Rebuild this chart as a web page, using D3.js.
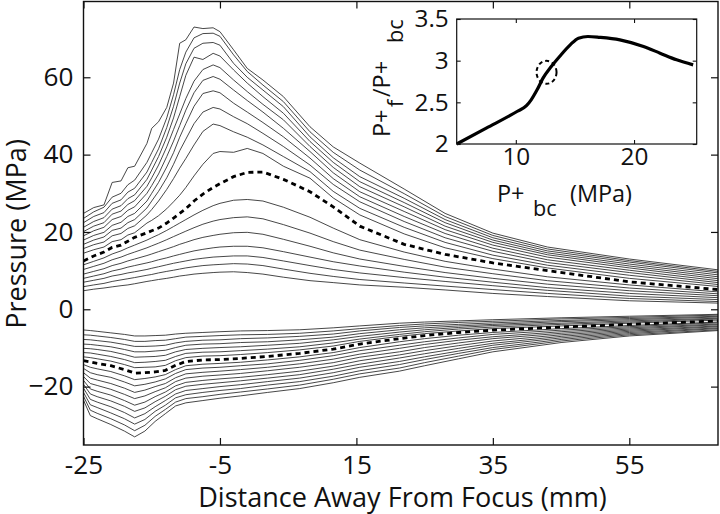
<!DOCTYPE html>
<html><head><meta charset="utf-8">
<script src="https://cdn.jsdelivr.net/npm/d3@7"></script>
<style>
body{margin:0;background:#fff;}
svg{display:block;}
text{font-family:"Open Sans",sans-serif;fill:#111;}
</style>
</head><body>
<svg id="c" width="720" height="514"></svg>
<script>
// ---------- data ----------
const xUpper = [-25, -23.5, -22, -20.8, -19.5, -18.5, -17.5, -15.7, -15, -14, -12.8, -11.8, -10.9, -10, -8.8, -7.5, -6, -5, -3, -1, 1.3, 4.3, 8.2, 11.6, 15.5, 22, 28, 35, 43, 55, 68];
const upperSeries = [
  [4.8, 5.2, 5.5, 5.8, 6.1, 6.3, 6.6, 7.2, 7.4, 7.7, 8.0, 8.3, 8.6, 8.8, 9.1, 9.3, 9.5, 9.6, 9.7, 9.5, 9.1, 8.3, 7.4, 6.9, 6.3, 5.7, 5.0, 4.1, 3.3, 2.2, 1.6],
  [5.85, 6.3, 6.7, 7.2, 7.6, 7.9, 8.2, 8.8, 9.0, 9.4, 9.8, 10.1, 10.4, 10.7, 11.0, 11.3, 11.5, 11.6, 11.8, 11.7, 11.3, 10.4, 9.3, 8.5, 7.7, 6.8, 6.0, 5.1, 4.1, 2.8, 2.0],
  [7.0, 7.5, 8.0, 8.6, 9.0, 9.4, 9.7, 10.3, 10.6, 11.0, 11.5, 11.9, 12.2, 12.5, 12.9, 13.2, 13.5, 13.6, 13.8, 13.8, 13.4, 12.5, 11.3, 10.3, 9.4, 8.2, 7.2, 6.1, 4.9, 3.4, 2.5],
  [8.0, 8.6, 9.2, 9.9, 10.4, 10.9, 11.3, 12.0, 12.3, 12.8, 13.3, 13.8, 14.2, 14.6, 15.1, 15.5, 15.9, 16.1, 16.3, 16.3, 15.9, 14.9, 13.5, 12.3, 11.2, 9.6, 8.3, 7.0, 5.6, 4.1, 3.0],
  [9.1, 9.8, 10.5, 11.3, 11.9, 12.5, 13.0, 13.9, 14.3, 14.9, 15.6, 16.2, 16.8, 17.3, 18.0, 18.6, 19.1, 19.4, 19.8, 19.9, 19.4, 18.1, 16.3, 14.6, 13.0, 11.1, 9.5, 8.0, 6.5, 4.8, 3.5],
  [10.3, 11.1, 11.9, 12.8, 13.5, 14.2, 14.8, 15.9, 16.4, 17.1, 18.0, 18.8, 19.5, 20.2, 21.1, 22.0, 22.8, 23.2, 23.7, 23.9, 23.4, 21.9, 19.7, 17.5, 15.3, 12.9, 10.9, 9.2, 7.4, 5.5, 4.0],
  [11.5, 12.4, 13.3, 14.3, 15.1, 15.9, 16.6, 17.9, 18.5, 19.3, 20.4, 21.4, 22.3, 23.2, 24.4, 25.6, 26.8, 27.4, 28.2, 28.4, 28.0, 26.4, 23.8, 21.0, 18.0, 14.8, 12.4, 10.4, 8.4, 6.3, 4.5],
  [12.5, 13.8, 14.8, 16.0, 16.6, 17.6, 18.6, 19.8, 20.3, 21.0, 22.3, 23.6, 24.8, 26.0, 28.0, 29.8, 31.5, 32.5, 34.3, 35.4, 35.5, 33.6, 30.4, 26.5, 21.5, 16.8, 14.2, 12.0, 10.0, 7.1, 5.1],
  [14.5, 15.4, 16.1, 17.5, 18.0, 19.2, 19.8, 22.3, 23.0, 24.2, 26.0, 27.8, 29.5, 31.5, 34.5, 37.5, 40.3, 40.8, 40.6, 41.6, 40.3, 37.0, 33.9, 28.8, 24.4, 19.5, 15.9, 13.1, 10.7, 8.0, 5.9],
  [15.7, 16.7, 17.4, 19.0, 19.6, 20.9, 21.6, 24.4, 25.8, 28.0, 31.0, 33.8, 36.5, 39.0, 42.5, 46.0, 47.9, 47.5, 45.9, 44.5, 42.5, 39.5, 35.6, 30.5, 26.1, 21.2, 17.3, 14.0, 11.4, 8.8, 6.4],
  [16.8, 17.9, 18.7, 20.4, 21.0, 22.4, 23.2, 26.2, 28.0, 30.5, 34.0, 37.5, 41.0, 44.0, 48.0, 51.0, 52.2, 51.8, 49.8, 48.0, 45.5, 42.1, 37.3, 32.3, 27.8, 22.7, 18.5, 15.0, 12.1, 9.5, 6.9],
  [17.9, 19.1, 19.9, 21.7, 22.5, 24.0, 24.8, 28.0, 30.0, 32.8, 36.8, 40.5, 44.5, 48.0, 52.5, 55.8, 56.5, 56.0, 53.3, 51.0, 48.3, 44.6, 39.1, 33.8, 29.1, 24.0, 19.6, 15.8, 12.8, 10.1, 7.4],
  [19.0, 20.3, 21.2, 23.2, 24.0, 25.6, 26.5, 30.0, 32.0, 35.0, 39.5, 43.5, 47.5, 51.5, 56.0, 59.2, 60.2, 59.5, 56.7, 54.0, 51.0, 46.8, 40.8, 35.3, 30.4, 25.3, 20.6, 16.6, 13.5, 10.7, 7.9],
  [20.1, 21.5, 22.4, 24.6, 25.4, 27.1, 28.1, 31.8, 34.0, 37.3, 42.0, 46.5, 50.5, 54.5, 59.0, 62.0, 63.2, 62.5, 59.3, 56.3, 53.0, 49.0, 42.1, 36.7, 31.7, 26.5, 21.5, 17.3, 14.1, 11.2, 8.4],
  [21.2, 22.7, 23.7, 25.9, 26.8, 28.6, 29.6, 33.6, 36.0, 39.5, 44.5, 49.5, 55.0, 60.5, 65.2, 64.6, 66.2, 65.5, 61.9, 58.5, 55.0, 50.7, 43.4, 38.0, 33.0, 27.6, 22.4, 17.9, 14.6, 11.7, 8.9],
  [22.4, 24.0, 25.0, 27.4, 28.3, 30.3, 31.3, 35.5, 38.0, 41.5, 47.0, 52.5, 58.5, 63.5, 67.5, 68.8, 69.0, 68.3, 63.6, 60.0, 56.7, 52.4, 44.6, 39.2, 34.3, 28.7, 23.2, 18.5, 15.1, 12.2, 9.4],
  [23.5, 25.2, 26.4, 29.0, 30.0, 32.2, 33.4, 38.0, 40.5, 44.0, 49.5, 55.5, 62.0, 66.5, 70.2, 71.3, 71.4, 70.6, 65.8, 61.5, 58.0, 53.7, 45.9, 40.6, 36.0, 29.9, 24.0, 19.1, 15.6, 12.6, 9.8],
  [24.8, 26.3, 27.0, 32.8, 33.2, 36.6, 37.0, 42.9, 46.8, 48.5, 52.2, 58.5, 68.8, 69.7, 73.0, 72.6, 72.8, 71.8, 67.1, 62.3, 59.3, 55.0, 47.2, 42.0, 37.8, 31.1, 24.8, 19.7, 16.1, 13.0, 10.2]
];
const xLower = [-25, -24, -23, -21, -19, -17.5, -16, -14.5, -13, -11.5, -10, -7.5, -5, -2, 2, 6.7, 11.6, 15.5, 21.3, 25, 30, 35, 45, 55, 68];
const lowerSeries = [
  [-5.35, -5.5, -5.7, -6.1, -6.5, -6.9, -6.9, -6.8, -6.7, -6.4, -6.2, -6.0, -5.8, -5.6, -5.5, -5.3, -4.8, -4.3, -3.6, -3.3, -3.0, -2.7, -2.2, -1.8, -1.3],
  [-6.6, -6.7, -6.9, -7.3, -7.8, -8.3, -8.3, -8.1, -8.0, -7.6, -7.2, -7.0, -6.8, -6.6, -6.5, -6.2, -5.6, -5.0, -4.2, -3.8, -3.4, -3.1, -2.5, -2.1, -1.5],
  [-7.8, -7.9, -8.1, -8.5, -9.1, -9.6, -9.6, -9.5, -9.3, -8.7, -8.3, -8.0, -7.9, -7.6, -7.4, -7.0, -6.4, -5.6, -4.7, -4.3, -3.9, -3.5, -2.9, -2.4, -1.8],
  [-9.0, -9.1, -9.3, -9.7, -10.4, -11.0, -11.0, -10.8, -10.6, -9.9, -9.3, -9.0, -8.9, -8.6, -8.4, -7.9, -7.2, -6.3, -5.3, -4.8, -4.3, -3.9, -3.2, -2.7, -2.0],
  [-10.1, -10.2, -10.4, -10.9, -11.7, -12.4, -12.3, -12.2, -11.9, -11.0, -10.4, -10.1, -9.9, -9.7, -9.3, -8.8, -7.9, -7.0, -5.9, -5.3, -4.7, -4.2, -3.6, -3.0, -2.3],
  [-11.2, -11.3, -11.6, -12.2, -13.0, -13.8, -13.7, -13.5, -13.2, -12.2, -11.4, -11.1, -11.0, -10.7, -10.3, -9.7, -8.7, -7.7, -6.5, -5.8, -5.1, -4.6, -3.9, -3.3, -2.5],
  [-12.3, -12.5, -12.8, -13.4, -14.3, -15.1, -15.0, -14.9, -14.5, -13.3, -12.5, -12.1, -12.0, -11.7, -11.2, -10.5, -9.5, -8.3, -7.0, -6.3, -5.6, -5.0, -4.3, -3.6, -2.8],
  [-13.3, -13.6, -14.0, -14.6, -15.6, -16.5, -16.4, -16.2, -15.8, -14.5, -13.5, -13.1, -13.0, -12.7, -12.2, -11.4, -10.3, -9.0, -7.6, -6.8, -6.0, -5.4, -4.6, -3.9, -3.0],
  [-14.3, -15.0, -15.4, -16.1, -17.2, -18.2, -17.9, -17.5, -16.9, -15.6, -14.6, -14.2, -14.0, -13.7, -13.1, -12.3, -11.2, -9.9, -8.4, -7.6, -6.7, -6.0, -5.0, -4.2, -3.3],
  [-15.3, -16.4, -16.9, -17.6, -18.8, -19.8, -19.4, -18.8, -18.0, -16.6, -15.6, -15.2, -15.0, -14.6, -14.1, -13.2, -12.0, -10.7, -9.3, -8.4, -7.4, -6.5, -5.4, -4.5, -3.5],
  [-16.4, -17.8, -18.3, -19.2, -20.4, -21.5, -20.9, -20.0, -19.2, -17.7, -16.7, -16.3, -16.0, -15.6, -15.0, -14.1, -12.9, -11.6, -10.1, -9.1, -8.0, -7.1, -5.8, -4.8, -3.8],
  [-17.4, -19.2, -19.7, -20.7, -22.0, -23.1, -22.4, -21.3, -20.3, -18.7, -17.8, -17.3, -17.0, -16.6, -15.9, -15.0, -13.8, -12.4, -11.0, -9.9, -8.7, -7.6, -6.2, -5.1, -4.0],
  [-18.4, -20.6, -21.2, -22.2, -23.6, -24.8, -24.0, -22.6, -21.4, -19.8, -18.9, -18.4, -18.0, -17.6, -16.9, -16.0, -14.7, -13.3, -11.8, -10.7, -9.4, -8.2, -6.6, -5.4, -4.3],
  [-19.4, -21.9, -22.6, -23.7, -25.1, -26.4, -25.5, -23.9, -22.5, -20.8, -19.9, -19.4, -19.0, -18.5, -17.8, -16.9, -15.5, -14.2, -12.6, -11.5, -10.1, -8.8, -7.0, -5.7, -4.5],
  [-20.4, -23.3, -24.0, -25.2, -26.7, -28.1, -27.0, -25.2, -23.6, -21.9, -21.0, -20.5, -20.0, -19.5, -18.7, -17.8, -16.4, -15.0, -13.5, -12.3, -10.8, -9.3, -7.4, -6.0, -4.8],
  [-21.5, -24.7, -25.4, -26.8, -28.3, -29.7, -28.5, -26.4, -24.8, -22.9, -22.1, -21.5, -21.0, -20.5, -19.6, -18.7, -17.3, -15.9, -14.3, -13.0, -11.4, -9.9, -7.8, -6.3, -5.0],
  [-22.5, -26.1, -26.9, -28.3, -29.9, -31.4, -30.0, -27.7, -25.9, -24.0, -23.1, -22.6, -22.0, -21.4, -20.6, -19.6, -18.1, -16.7, -15.2, -13.8, -12.1, -10.4, -8.2, -6.6, -5.3],
  [-23.5, -27.5, -28.3, -29.8, -31.5, -33.0, -31.5, -29.0, -27.0, -25.0, -24.2, -23.6, -23.0, -22.4, -21.5, -20.5, -19.0, -17.6, -16.0, -14.6, -12.8, -11.0, -8.6, -6.9, -5.5]
];
const dashedIndex = 7;
const xTicks = [-25, -5, 15, 35, 55];
const xTickLabels = ["-25", "-5", "15", "35", "55"];
const yTicks = [-20, 0, 20, 40, 60];
const yTickLabels = ["\u221220", "0", "20", "40", "60"];

const insetX = [5.0, 7.5, 10.1, 10.9, 11.3, 11.8, 12.3, 13.0, 13.7, 14.6, 15.3, 16.1, 17.1, 18.8, 20.8, 22.2, 23.6, 25.0];
const insetY = [2.0, 2.19, 2.39, 2.46, 2.53, 2.65, 2.79, 2.93, 3.05, 3.19, 3.27, 3.29, 3.28, 3.25, 3.17, 3.09, 3.01, 2.95];
const insetXTicks = [10, 20];
const insetYTicks = [2, 2.5, 3, 3.5];
const insetYTickLabels = ["2", "2.5", "3", "3.5"];
const ringCenter = [12.6, 2.86];

// ---------- drawing ----------
const svg = d3.select("#c");
const probe = svg.append("text").attr("font-size", 100).text("Distance Away From Focus (mm)");
const ratio = probe.node().getComputedTextLength() / 1362;
probe.remove();
const fs = s => (s / ratio).toFixed(2);

const L = 83.5, R = 718, T = 1.5, B = 445;
const x = d3.scaleLinear().domain([-25, 68]).range([L, R]);
const y = d3.scaleLinear().domain([-35.1, 79.6]).range([B, T]);

svg.append("defs").append("clipPath").attr("id", "clipMain")
  .append("rect").attr("x", L).attr("y", T).attr("width", R - L).attr("height", B - T);

const plot = svg.append("g").attr("clip-path", "url(#clipMain)");

function drawFamily(xs, series) {
  const line = d3.line().x((d, i) => x(xs[i])).y(d => y(d));
  series.forEach((s, k) => {
    if (k === dashedIndex) return;
    plot.append("path").attr("d", line(s))
      .attr("fill", "none").attr("stroke", "#262626").attr("stroke-width", 0.85);
  });
  plot.append("path").attr("d", line(series[dashedIndex]))
    .attr("fill", "none").attr("stroke", "#000").attr("stroke-width", 2.8)
    .attr("stroke-dasharray", "5,4");
}
drawFamily(xUpper, upperSeries);
drawFamily(xLower, lowerSeries);

// axes
const tickFont = fs(29);
const gl = svg.append("g").attr("transform", `translate(${L},0)`)
  .call(d3.axisLeft(y).tickValues(yTicks).tickFormat((d, i) => yTickLabels[i]).tickSize(-7).tickPadding(10));
const gb = svg.append("g").attr("transform", `translate(0,${B})`)
  .call(d3.axisBottom(x).tickValues(xTicks).tickFormat((d, i) => xTickLabels[i]).tickSize(-7).tickPadding(10));
const gr = svg.append("g").attr("transform", `translate(${R},0)`)
  .call(d3.axisRight(y).tickValues(yTicks).tickFormat("").tickSize(-7));
const gt = svg.append("g").attr("transform", `translate(0,${T})`)
  .call(d3.axisTop(x).tickValues(xTicks).tickFormat("").tickSize(-7));
[gl, gb, gr, gt].forEach(g => {
  g.select(".domain").remove();
  g.selectAll("line").attr("stroke", "#111").attr("stroke-width", 1.2);
  g.selectAll("text").attr("font-size", tickFont).attr("font-family", '"Open Sans",sans-serif').attr("fill", "#111");
});
svg.append("rect").attr("x", L).attr("y", T).attr("width", R - L).attr("height", B - T)
  .attr("fill", "none").attr("stroke", "#111").attr("stroke-width", 1.4);

svg.append("text").attr("x", 402.5).attr("y", 507).attr("text-anchor", "middle")
  .attr("font-size", fs(30)).text("Distance Away From Focus (mm)");
svg.append("text").attr("transform", "translate(26,234) rotate(-90)").attr("text-anchor", "middle")
  .attr("font-size", fs(30)).text("Pressure (MPa)");

// ---------- inset ----------
const iL = 456.7, iR = 696.7, iT = 19, iB = 144;
const ix = d3.scaleLinear().domain([5, 25.3]).range([iL, iR]);
const iy = d3.scaleLinear().domain([2, 3.5]).range([iB, iT]);
svg.append("rect").attr("x", iL).attr("y", iT).attr("width", iR - iL).attr("height", iB - iT)
  .attr("fill", "#fff").attr("stroke", "none");

const inset = svg.append("g");
inset.append("path")
  .attr("d", d3.line().x((d, i) => ix(insetX[i])).y(d => iy(d)).curve(d3.curveMonotoneX)(insetY))
  .attr("fill", "none").attr("stroke", "#000").attr("stroke-width", 3.2);
inset.append("ellipse").attr("cx", ix(ringCenter[0])).attr("cy", iy(ringCenter[1]))
  .attr("rx", 10).attr("ry", 11.5).attr("fill", "none").attr("stroke", "#000")
  .attr("stroke-width", 2).attr("stroke-dasharray", "4,3");

const itf = fs(27);
const il = svg.append("g").attr("transform", `translate(${iL},0)`)
  .call(d3.axisLeft(iy).tickValues(insetYTicks).tickFormat((d, i) => insetYTickLabels[i]).tickSize(-4).tickPadding(8));
const ib = svg.append("g").attr("transform", `translate(0,${iB})`)
  .call(d3.axisBottom(ix).tickValues(insetXTicks).tickFormat(d3.format("d")).tickSize(-4).tickPadding(4));
const ir = svg.append("g").attr("transform", `translate(${iR},0)`)
  .call(d3.axisRight(iy).tickValues(insetYTicks).tickFormat("").tickSize(-4));
const it = svg.append("g").attr("transform", `translate(0,${iT})`)
  .call(d3.axisTop(ix).tickValues(insetXTicks).tickFormat("").tickSize(-4));
[il, ib, ir, it].forEach(g => {
  g.select(".domain").remove();
  g.selectAll("line").attr("stroke", "#111").attr("stroke-width", 1.1);
  g.selectAll("text").attr("font-size", itf).attr("font-family", '"Open Sans",sans-serif').attr("fill", "#111");
});
svg.append("rect").attr("x", iL).attr("y", iT).attr("width", iR - iL).attr("height", iB - iT)
  .attr("fill", "none").attr("stroke", "#111").attr("stroke-width", 1.2);

const ixl = svg.append("text").attr("font-size", fs(26));
ixl.append("tspan").attr("x", 497).attr("y", 202).text("P+");
ixl.append("tspan").attr("x", 533).attr("y", 216).attr("font-size", fs(24)).text("bc");
ixl.append("tspan").attr("x", 570).attr("y", 202).text("(MPa)");

const iyl = svg.append("text").attr("transform", "translate(390,0) rotate(-90)").attr("font-size", fs(26));
iyl.append("tspan").attr("x", -137).attr("y", 0).text("P+");
iyl.append("tspan").attr("x", -107).attr("y", 13).attr("font-size", fs(24)).text("f");
iyl.append("tspan").attr("x", -97).attr("y", 0).text("/P+");
iyl.append("tspan").attr("x", -43).attr("y", 13).attr("font-size", fs(24)).text("bc");
</script>
</body></html>
